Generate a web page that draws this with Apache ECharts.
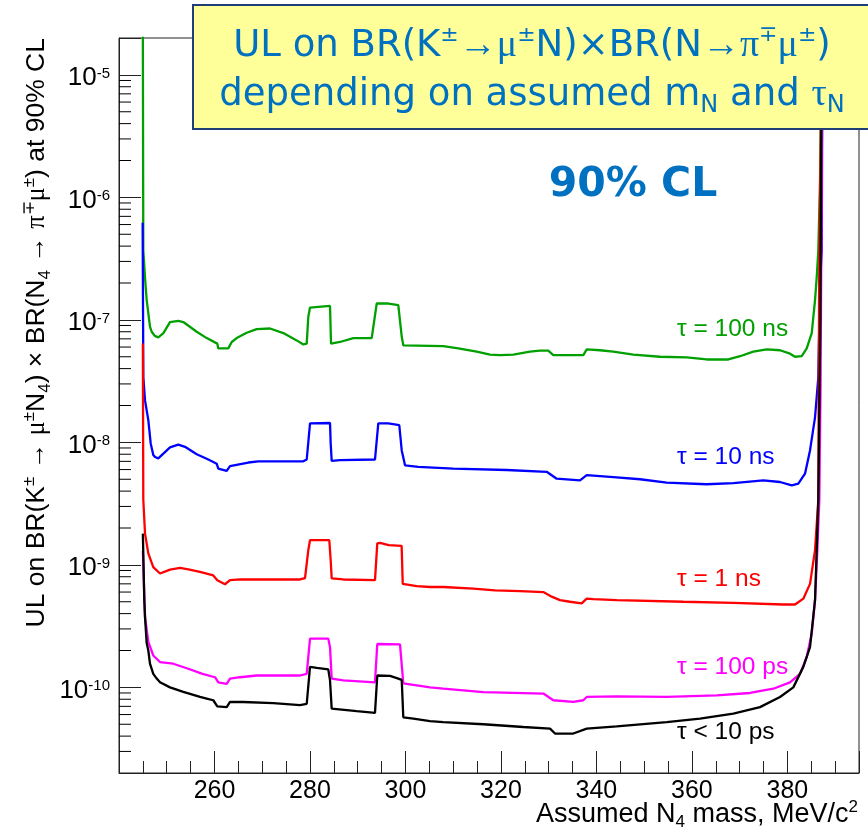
<!DOCTYPE html>
<html>
<head>
<meta charset="utf-8">
<script src="https://cdn.jsdelivr.net/npm/echarts@6/dist/echarts.min.js"></script>
<style>
  html, body { margin: 0; padding: 0; background: #ffffff; }
  #chart { width: 868px; height: 832px; }
</style>
</head>
<body>
<div id="chart"></div>
<script>
// Upper limits at 90% CL versus assumed N4 mass [MeV/c^2], one curve per lifetime.
const ul100ns = [
  [244.96, 1e-4], [245.09, 3.7e-7], [245.45, 2.2e-7], [245.80, 1.45e-7], [246.49, 8.8e-8],
  [246.85, 8.0e-8], [247.50, 7.4e-8], [248.23, 7.2e-8], [249.30, 7.8e-8], [250.68, 9.6e-8],
  [252.42, 9.8e-8], [253.47, 9.6e-8], [256.28, 8.0e-8], [258.37, 7.1e-8], [260.59, 6.4e-8],
  [260.80, 5.85e-8], [262.89, 5.85e-8], [263.61, 6.6e-8], [264.65, 7.1e-8], [266.75, 7.85e-8],
  [268.84, 8.4e-8], [271.63, 8.5e-8], [274.42, 7.8e-8], [277.22, 6.8e-8], [278.61, 6.3e-8],
  [279.32, 6.4e-8], [279.65, 1.06e-7], [280.01, 1.26e-7], [284.20, 1.30e-7], [284.41, 6.4e-8],
  [286.29, 6.6e-8], [289.08, 7.1e-8], [292.93, 7.1e-8], [293.98, 1.36e-7], [294.31, 1.41e-7],
  [296.41, 1.36e-7], [298.50, 1.32e-7], [299.22, 7.3e-8], [299.55, 6.2e-8], [307.93, 6.1e-8],
  [311.07, 5.85e-8], [314.93, 5.5e-8], [317.71, 5.2e-8], [319.81, 5.15e-8], [322.59, 5.2e-8],
  [326.09, 5.5e-8], [328.19, 5.6e-8], [329.92, 5.6e-8], [330.97, 5.15e-8], [337.26, 5.15e-8],
  [337.97, 5.75e-8], [340.75, 5.65e-8], [343.54, 5.5e-8], [347.73, 5.2e-8], [353.32, 5.0e-8],
  [358.91, 4.95e-8], [363.10, 4.75e-8], [367.63, 4.75e-8], [370.08, 5.05e-8], [372.86, 5.5e-8],
  [375.67, 5.75e-8], [378.45, 5.65e-8], [380.55, 5.3e-8], [381.60, 5.0e-8], [383.00, 5.05e-8],
  [384.05, 5.85e-8], [385.10, 7.8e-8], [385.79, 1.45e-7], [386.15, 2.25e-7], [386.48, 3.7e-7],
  [386.84, 1.4e-6], [387.19, 2.0e-5], [387.50, 1e-4]
];

const ul10ns = [
  [244.95, 6.2e-7], [245.10, 3.4e-8], [245.45, 2.2e-8], [246.14, 1.52e-8], [246.64, 9.8e-9],
  [247.18, 7.9e-9], [247.54, 7.6e-9], [248.23, 7.4e-9], [248.59, 7.4e-9], [250.68, 9.1e-9],
  [252.42, 9.6e-9], [253.82, 9.2e-9], [256.28, 8.0e-9], [258.71, 7.25e-9], [260.46, 6.7e-9],
  [260.80, 6.1e-9], [262.56, 5.85e-9], [263.25, 6.4e-9], [267.08, 6.85e-9], [269.18, 7.0e-9],
  [278.61, 7.0e-9], [279.32, 7.25e-9], [279.65, 1.0e-8], [280.01, 1.43e-8], [284.20, 1.44e-8],
  [284.34, 9.8e-9], [284.55, 7.05e-9], [286.29, 7.15e-9], [293.62, 7.25e-9], [294.31, 1.43e-8],
  [296.41, 1.43e-8], [298.71, 1.38e-8], [299.22, 8.6e-9], [299.91, 6.5e-9], [302.69, 6.3e-9],
  [310.02, 6.1e-9], [321.21, 5.95e-9], [329.59, 5.75e-9], [331.68, 5.05e-9], [336.56, 4.9e-9],
  [337.97, 5.4e-9], [343.54, 5.2e-9], [349.13, 5.0e-9], [354.72, 4.7e-9], [363.10, 4.55e-9],
  [368.68, 4.65e-9], [374.96, 4.9e-9], [378.45, 4.75e-9], [380.91, 4.45e-9], [382.29, 4.6e-9],
  [383.69, 5.55e-9], [384.74, 8.6e-9], [385.79, 1.6e-8], [386.48, 3.4e-8], [386.84, 2.0e-7],
  [387.19, 3.7e-7], [387.35, 2.0e-5], [387.50, 1e-4]
];

const ul1ns = [
  [245.00, 6.4e-8], [245.09, 3.4e-9], [245.45, 1.8e-9], [246.14, 1.24e-9], [247.18, 9.6e-10],
  [248.59, 8.5e-10], [250.68, 9.15e-10], [252.78, 9.45e-10], [254.52, 9.2e-10], [256.97, 8.75e-10],
  [259.75, 8.2e-10], [260.59, 7.5e-10], [262.20, 6.95e-10], [263.25, 7.5e-10], [265.35, 7.6e-10],
  [277.91, 7.6e-10], [278.96, 7.8e-10], [279.65, 1.32e-9], [280.01, 1.59e-9], [284.05, 1.59e-9],
  [284.34, 1.09e-9], [284.55, 7.75e-10], [286.98, 7.6e-10], [293.62, 7.5e-10], [294.10, 1.50e-9],
  [294.67, 1.51e-9], [296.50, 1.45e-9], [299.20, 1.43e-9], [299.43, 7.0e-10], [302.36, 6.7e-10],
  [305.14, 6.6e-10], [307.93, 6.6e-10], [314.21, 6.4e-10], [318.76, 6.2e-10], [324.00, 6.1e-10],
  [328.88, 6.0e-10], [330.64, 5.5e-10], [332.37, 5.15e-10], [334.47, 5.0e-10], [336.92, 4.85e-10],
  [337.97, 5.3e-10], [339.35, 5.25e-10], [344.25, 5.15e-10], [358.20, 5.0e-10], [368.68, 4.9e-10],
  [379.14, 4.75e-10], [381.60, 4.75e-10], [383.34, 5.3e-10], [384.74, 7.0e-10], [385.79, 1.32e-9],
  [386.48, 3.4e-9], [386.65, 2.0e-7], [387.05, 5.0e-6], [387.40, 1e-4]
];

const ul100ps = [
  [245.00, 1.3e-9], [245.45, 3.75e-10], [246.14, 2.35e-10], [247.18, 1.82e-10], [248.59, 1.61e-10],
  [251.37, 1.56e-10], [254.50, 1.42e-10], [257.50, 1.29e-10], [260.11, 1.21e-10], [260.80, 1.10e-10],
  [262.56, 1.07e-10], [263.25, 1.18e-10], [265.35, 1.21e-10], [268.84, 1.25e-10], [277.91, 1.25e-10],
  [279.32, 1.29e-10], [280.01, 2.50e-10], [283.84, 2.50e-10], [284.20, 2.13e-10], [284.55, 1.18e-10],
  [286.98, 1.14e-10], [293.62, 1.10e-10], [294.10, 2.26e-10], [298.86, 2.24e-10], [299.55, 1.08e-10],
  [302.36, 1.04e-10], [305.14, 1.0e-10], [307.93, 9.75e-11], [316.31, 9.15e-11], [328.88, 8.9e-11],
  [330.97, 7.85e-11], [335.16, 7.6e-11], [337.26, 7.85e-11], [337.97, 8.35e-11], [344.25, 8.45e-11],
  [354.72, 8.35e-11], [365.20, 8.6e-11], [372.17, 9.0e-11], [377.05, 9.75e-11], [380.55, 1.10e-10],
  [382.65, 1.29e-10], [384.05, 1.77e-10], [385.10, 2.75e-10], [385.79, 5.15e-10], [386.27, 1.32e-9],
  [386.69, 3.4e-9], [386.95, 3.0e-8], [387.30, 1.0e-5], [387.50, 1e-4]
];

const ul10ps = [
  [245.00, 1.8e-9], [245.30, 5.1e-10], [245.45, 3.75e-10], [245.80, 2.3e-10], [246.14, 2.0e-10],
  [246.49, 1.56e-10], [247.18, 1.29e-10], [247.90, 1.18e-10], [248.59, 1.10e-10], [250.68, 1.0e-10],
  [253.47, 9.2e-11], [256.97, 8.35e-11], [258.37, 8.1e-11], [259.75, 7.85e-11], [260.59, 7.0e-11],
  [262.56, 6.9e-11], [263.25, 7.6e-11], [266.04, 7.6e-11], [272.32, 7.45e-11], [277.91, 7.15e-11],
  [279.32, 7.35e-11], [280.01, 1.47e-10], [281.41, 1.44e-10], [283.84, 1.40e-10], [284.20, 1.14e-10],
  [284.55, 6.7e-11], [289.79, 6.4e-11], [293.62, 6.2e-11], [294.10, 1.25e-10], [296.77, 1.24e-10],
  [298.50, 1.18e-10], [299.22, 1.15e-10], [299.55, 5.7e-11], [301.65, 5.55e-11], [305.14, 5.3e-11],
  [307.93, 5.2e-11], [316.31, 5.0e-11], [324.69, 4.75e-11], [330.28, 4.6e-11], [331.33, 4.2e-11],
  [335.16, 4.2e-11], [337.97, 4.6e-11], [344.25, 4.8e-11], [354.72, 5.2e-11], [361.70, 5.55e-11],
  [368.68, 6.1e-11], [374.27, 6.9e-11], [378.45, 8.35e-11], [381.24, 1.0e-10], [383.34, 1.47e-10],
  [384.74, 2.13e-10], [385.79, 5.15e-10], [386.48, 3.4e-9], [386.90, 1.0e-7], [387.30, 1e-4]
];

const seriesNames = ['τ = 100 ns', 'τ = 10 ns', 'τ = 1 ns', 'τ = 100 ps', 'τ < 10 ps'];
const seriesData = [ul100ns, ul10ns, ul1ns, ul100ps, ul10ps];

// Axis ranges and tick labels
const massRange = [240, 395];
const ulRange = [2e-11, 2e-5];
const massTickLabels = [260, 280, 300, 320, 340, 360, 380];
const ulDecades = [-10, -9, -8, -7, -6, -5];
const ulMinorTicks = [];
for (let e = -11; e <= -5; e++) {
  for (let k = 2; k <= 9; k++) {
    const v = k * Math.pow(10, e);
    if (v > ulRange[0] * 1.0001 && v < ulRange[1] * 0.9999) ulMinorTicks.push(v);
  }
}

const seriesColors = ['#00a000', '#0000ff', '#ff0000', '#ff00ff', '#000000'];
const FONT = '"Liberation Sans", Arial, Helvetica, sans-serif';
const TITLE_FONT = '"DejaVu Sans", Verdana, sans-serif';
const GREEK_FONT = '"Liberation Serif", "DejaVu Serif", serif';
const BLUE = '#0070c0';

const chart = echarts.init(document.getElementById('chart'), null, { renderer: 'canvas' });

const lineSeries = seriesData.map((d, i) => ({
  name: seriesNames[i],
  type: 'line',
  data: d,
  showSymbol: false,
  symbol: 'none',
  clip: true,
  z: 3 + i,
  lineStyle: { width: 2.3, color: seriesColors[i] },
  itemStyle: { color: seriesColors[i] }
}));

// short minor ticks on the log axis (2..9 in each decade)
const minorTickSeries = {
  type: 'custom',
  silent: true,
  z: 10,
  data: ulMinorTicks.map(v => [massRange[0], v]),
  renderItem: function (params, api) {
    const p = api.coord([api.value(0), api.value(1)]);
    return {
      type: 'line',
      shape: { x1: p[0], y1: p[1], x2: p[0] + 12, y2: p[1] },
      style: { stroke: '#000', lineWidth: 1 }
    };
  }
};

const supStyle = (fs, fam) => ({ fontSize: fs, fontFamily: fam, verticalAlign: 'top', lineHeight: fs });
const subStyle = (fs, fam) => ({ fontSize: fs, fontFamily: fam, verticalAlign: 'bottom', lineHeight: fs });

const seriesLabelY = [329, 457, 579, 667, 732];

const option = {
  animation: false,
  backgroundColor: '#ffffff',
  grid: {
    left: 119, right: 9, top: 38, bottom: 59,
    show: true, borderColor: '#222', borderWidth: 1, backgroundColor: 'transparent'
  },
  xAxis: [
    {
      type: 'value', min: massRange[0], max: massRange[1], interval: 5, position: 'bottom',
      splitLine: { show: false },
      axisLine: { show: true, onZero: false, lineStyle: { color: '#222', width: 1 } },
      axisTick: { show: true, inside: true, length: 12, lineStyle: { color: '#222', width: 1 } },
      axisLabel: {
        show: true, margin: 6, fontSize: 25, fontFamily: FONT, color: '#000', hideOverlap: false,
        formatter: v => (massTickLabels.indexOf(Math.round(v)) >= 0 && Math.abs(v - Math.round(v)) < 1e-6) ? String(Math.round(v)) : ''
      }
    },
    {
      type: 'value', min: massRange[0], max: massRange[1], interval: 20, position: 'bottom',
      splitLine: { show: false },
      axisLine: { show: false, onZero: false },
      axisTick: { show: true, inside: true, length: 22, lineStyle: { color: '#222', width: 1 } },
      axisLabel: { show: false }
    }
  ],
  yAxis: {
    type: 'log', logBase: 10, min: ulRange[0], max: ulRange[1], position: 'left',
    splitLine: { show: false },
    axisLine: { show: true, onZero: false, lineStyle: { color: '#222', width: 1 } },
    axisTick: { show: true, inside: true, length: 22, lineStyle: { color: '#222', width: 1 } },
    axisLabel: {
      show: true, margin: 9, color: '#000', hideOverlap: false,
      formatter: function (v) {
        const e = Math.log10(v);
        const r = Math.round(e);
        if (Math.abs(e - r) < 1e-6 && ulDecades.indexOf(r) >= 0) return '{b|10}{s|' + r + '}';
        return '';
      },
      rich: {
        b: { fontSize: 26, fontFamily: FONT, color: '#000', lineHeight: 24, padding: [6, 0, 0, 0] },
        s: { fontSize: 15, fontFamily: FONT, color: '#000', lineHeight: 16, padding: [3, 0, 0, 0], verticalAlign: 'top' }
      }
    }
  },
  series: lineSeries.concat([minorTickSeries]),
  graphic: [
    {
      type: 'rect', z: 100,
      shape: { x: 193, y: 5, width: 690, height: 124 },
      style: { fill: '#ffff99', stroke: '#1f3e75', lineWidth: 2 }
    },
    {
      type: 'text', z: 101, x: 532, y: 46,
      style: {
        text: 'UL on BR(K{sup|±}{g|→}{g|μ}{sup|±}N)×BR(N{g|→}{g|π}{sup|∓}{g|μ}{sup|±})',
        fill: BLUE, fontSize: 37, fontFamily: TITLE_FONT, lineHeight: 44,
        align: 'center', verticalAlign: 'middle', textAlign: 'center', textVerticalAlign: 'middle',
        rich: {
          sup: Object.assign(supStyle(22, TITLE_FONT), { fill: BLUE, color: BLUE }),
          g: { fontSize: 38, fontFamily: GREEK_FONT, fill: BLUE, color: BLUE }
        }
      }
    },
    {
      type: 'text', z: 101, x: 532, y: 95,
      style: {
        text: 'depending on assumed m{sub|N} and {g|τ}{sub|N}',
        fill: BLUE, fontSize: 37, fontFamily: TITLE_FONT, lineHeight: 46,
        align: 'center', verticalAlign: 'middle', textAlign: 'center', textVerticalAlign: 'middle',
        rich: {
          sub: Object.assign(subStyle(24, TITLE_FONT), { fill: BLUE, color: BLUE }),
          g: { fontSize: 38, fontFamily: GREEK_FONT, fill: BLUE, color: BLUE }
        }
      }
    },
    {
      type: 'text', z: 101, x: 633, y: 185,
      style: {
        text: '90% CL', fill: BLUE, fontSize: 41, fontWeight: 'bold', fontFamily: TITLE_FONT,
        align: 'center', verticalAlign: 'middle', textAlign: 'center', textVerticalAlign: 'middle'
      }
    },
    {
      type: 'text', z: 101, x: 37, y: 38, rotation: Math.PI / 2,
      style: {
        text: 'UL on BR(K{sup|±} → {g|μ}{sup|±}N{sub|4}) × BR(N{sub|4} → {g|π}{sup|∓}{g|μ}{sup|±}) at 90% CL',
        fill: '#000', fontSize: 26.5, fontFamily: FONT, lineHeight: 33,
        align: 'right', verticalAlign: 'middle', textAlign: 'right', textVerticalAlign: 'middle',
        rich: {
          sup: Object.assign(supStyle(17, FONT), { fill: '#000' }),
          sub: Object.assign(subStyle(17, FONT), { fill: '#000' }),
          g: { fontSize: 26.5, fontFamily: GREEK_FONT, fill: '#000' }
        }
      }
    },
    {
      type: 'text', z: 101, x: 858, y: 815,
      style: {
        text: 'Assumed N{sub|4} mass, MeV/c{sup|2}',
        fill: '#000', fontSize: 27, fontFamily: FONT, lineHeight: 32,
        align: 'right', verticalAlign: 'middle', textAlign: 'right', textVerticalAlign: 'middle',
        rich: {
          sup: Object.assign(supStyle(17, FONT), { fill: '#000' }),
          sub: Object.assign(subStyle(17, FONT), { fill: '#000' })
        }
      }
    }
  ].concat(seriesNames.map((name, i) => ({
    type: 'text', z: 101, x: 677, y: seriesLabelY[i],
    style: {
      text: name, fill: seriesColors[i], fontSize: 24.5, fontFamily: FONT,
      align: 'left', verticalAlign: 'middle', textAlign: 'left', textVerticalAlign: 'middle'
    }
  })))
};

chart.setOption(option);
</script>
</body>
</html>
